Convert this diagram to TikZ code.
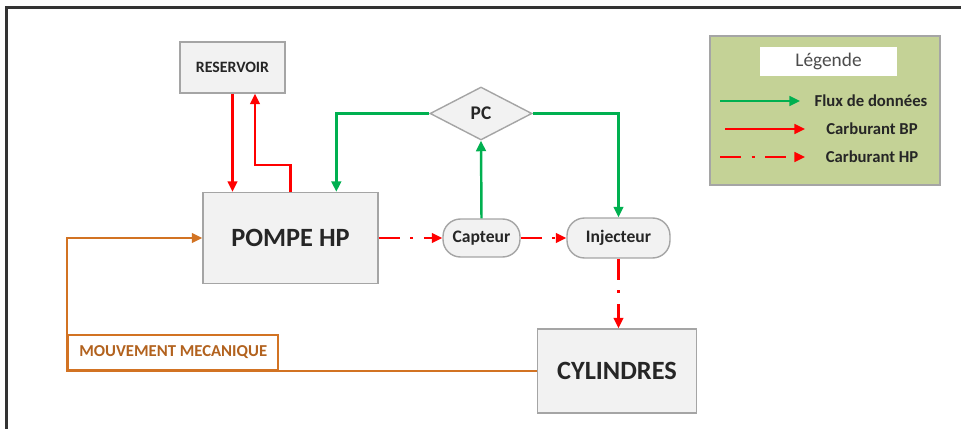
\documentclass[tikz,border=0pt]{standalone}
\usepackage{fontspec}
\setmainfont{Carlito}
\usetikzlibrary{shapes.geometric, arrows.meta, positioning}

\definecolor{boxgray}{RGB}{242,242,242}
\definecolor{edgegray}{RGB}{165,165,165}
\definecolor{flowgreen}{RGB}{0,176,80}
\definecolor{fuelred}{RGB}{255,0,0}
\definecolor{mecaorange}{RGB}{210,115,35}
\definecolor{legendgreen}{RGB}{196,210,150}

\begin{document}
\begin{tikzpicture}[
    x=0.02cm, y=-0.02cm,
    box/.style={rectangle, draw=edgegray, fill=boxgray, line width=0.8pt, align=center, text=black!85},
    pill/.style={box, rounded corners=0.35cm},
    tip/.style={-{Triangle[length=6pt,width=5.5pt]}},
    dataflow/.style={tip, draw=flowgreen, line width=1.4pt},
    fuelbp/.style={tip, draw=fuelred, line width=1.4pt},
    fuelhp/.style={fuelbp, dash pattern=on 12pt off 6pt on 1.7pt off 6pt},
    meca/.style={tip, draw=mecaorange, line width=1.4pt},
    legtext/.style={font=\bfseries\fontsize{9.5}{11}\selectfont, text=black!85}
]
\useasboundingbox (0,0) rectangle (961,429);

% Frame
\draw[line width=1.2pt, black!80] (6.5,429) -- (6.5,7.5) -- (961,7.5);

% Nodes
\node[box, minimum width=2.1cm, minimum height=1.02cm, font=\bfseries\fontsize{9}{10}\selectfont] (reservoir) at (232.5,67.5) {RESERVOIR};
\node[box, minimum width=3.5cm, minimum height=1.82cm, font=\bfseries\fontsize{15}{17}\selectfont] (pompe) at (290.5,238) {POMPE HP};
\node[box, diamond, aspect=2, inner sep=0pt, minimum width=2.04cm, minimum height=1.06cm, font=\bfseries\fontsize{11}{12}\selectfont] (pc) at (481,113.5) {PC};
\node[pill, minimum width=1.54cm, minimum height=0.76cm, font=\bfseries\fontsize{10}{11}\selectfont] (capteur) at (481.5,238) {Capteur};
\node[pill, minimum width=2.06cm, minimum height=0.8cm, font=\bfseries\fontsize{10}{11}\selectfont] (injecteur) at (618.5,238) {Injecteur};
\node[box, minimum width=3.18cm, minimum height=1.68cm, font=\bfseries\fontsize{15}{17}\selectfont] (cylindres) at (617,371) {CYLINDRES};
\node[draw=mecaorange, line width=1.4pt, text=mecaorange!85!black, font=\bfseries\fontsize{9.5}{11}\selectfont, minimum width=4.2cm, minimum height=0.7cm, anchor=south west] (mouv) at (cylindres.west -| 67,0) {MOUVEMENT MECANIQUE};

% Legend
\node[draw=edgegray, fill=legendgreen, line width=1pt, minimum width=4.6cm, minimum height=2.98cm] (legend) at (825,110.5) {};
\node[fill=white, minimum width=2.74cm, minimum height=0.46cm, font=\fontsize{11}{12}\selectfont, text=black!70] (legtitle) at (828.5,61.5) {Légende};
\node[legtext] (legflux) at (871,101) {Flux de données};
\node[legtext] (legbp) at (872,129) {Carburant BP};
\node[legtext] (leghp) at (872,157) {Carburant HP};
\coordinate (lg1) at (720,101);
\coordinate (lg2) at (725,129);
\coordinate (lg3) at (720,157);
\draw[dataflow] (lg1) -- ++(80,0);
\draw[fuelbp] (lg2) -- ++(80,0);
\draw[fuelhp] (lg3) -- ++(85,0);

% Arrows
\coordinate (bpret) at (255,165);
\path (pompe.north west) ++(134,0) coordinate (pcin);
\draw[fuelbp] (reservoir.south) -- (reservoir.south |- pompe.north);
\draw[fuelbp] (pompe.north) |- (bpret) -- (bpret |- reservoir.south);
\draw[dataflow] (pc.west) -| (pcin);
\draw[dataflow] (capteur.north) -- (pc.south);
\draw[dataflow] (pc.east) -| (injecteur.north);
\draw[fuelhp] (pompe.east) -- (capteur.west);
\draw[fuelhp] (capteur.east) -- (injecteur.west);
\draw[fuelhp] (injecteur.south) -- (injecteur.south |- cylindres.north);
\draw[meca] (cylindres.west) -- (mouv.south west) |- (pompe.west);

\end{tikzpicture}
\end{document}
